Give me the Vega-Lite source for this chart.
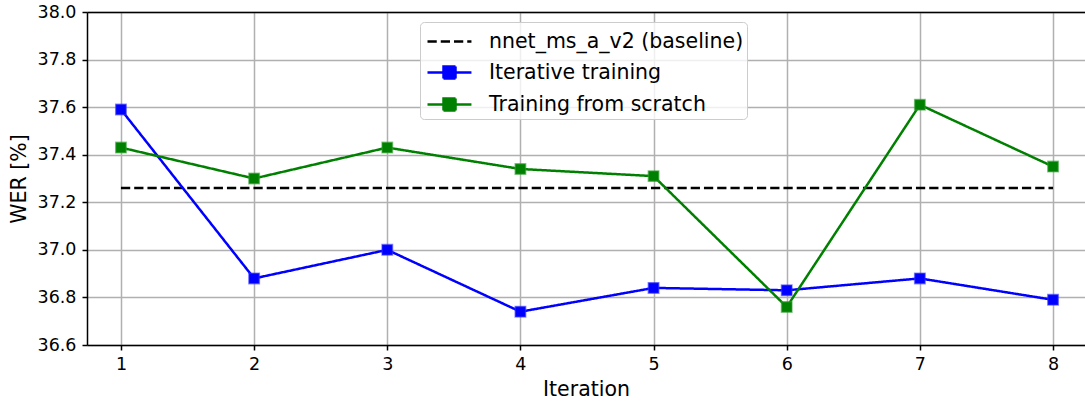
{
  "$schema": "https://vega.github.io/schema/vega-lite/v6.json",
  "width": 998,
  "height": 333,
  "autosize": {"type": "none"},
  "padding": {"left": 87, "top": 12, "right": 0, "bottom": 58},
  "config": {
    "font": "DejaVu Sans",
    "view": {"stroke": null},
    "axis": {
      "domainColor": "black",
      "domainWidth": 1.5,
      "tickColor": "black",
      "tickWidth": 1.5,
      "tickSize": 5,
      "gridColor": "#b0b0b0",
      "gridWidth": 1.5,
      "gridOpacity": 1,
      "labelColor": "black",
      "labelFontSize": 17.5,
      "titleColor": "black",
      "titleFontSize": 20.5,
      "titleFontWeight": "normal"
    }
  },
  "data": {
    "values": [
      {"series": "nnet_ms_a_v2 (baseline)", "iteration": 1, "wer": 37.26},
      {"series": "nnet_ms_a_v2 (baseline)", "iteration": 8, "wer": 37.26},
      {"series": "Iterative training", "iteration": 1, "wer": 37.59},
      {"series": "Iterative training", "iteration": 2, "wer": 36.88},
      {"series": "Iterative training", "iteration": 3, "wer": 37.0},
      {"series": "Iterative training", "iteration": 4, "wer": 36.74},
      {"series": "Iterative training", "iteration": 5, "wer": 36.84},
      {"series": "Iterative training", "iteration": 6, "wer": 36.83},
      {"series": "Iterative training", "iteration": 7, "wer": 36.88},
      {"series": "Iterative training", "iteration": 8, "wer": 36.79},
      {"series": "Training from scratch", "iteration": 1, "wer": 37.43},
      {"series": "Training from scratch", "iteration": 2, "wer": 37.3},
      {"series": "Training from scratch", "iteration": 3, "wer": 37.43},
      {"series": "Training from scratch", "iteration": 4, "wer": 37.34},
      {"series": "Training from scratch", "iteration": 5, "wer": 37.31},
      {"series": "Training from scratch", "iteration": 6, "wer": 36.76},
      {"series": "Training from scratch", "iteration": 7, "wer": 37.61},
      {"series": "Training from scratch", "iteration": 8, "wer": 37.35}
    ]
  },
  "resolve": {"axis": {"x": "independent"}},
  "layer": [
    {
      "mark": {"type": "line", "strokeWidth": 2.5, "clip": true},
      "encoding": {
        "x": {
          "field": "iteration",
          "type": "quantitative",
          "scale": {"domain": [0.745, 8.24], "nice": false, "zero": false},
          "axis": {
            "values": [1, 2, 3, 4, 5, 6, 7, 8],
            "format": "d",
            "title": "Iteration",
            "labelPadding": 5,
            "titlePadding": 7
          }
        },
        "y": {
          "field": "wer",
          "type": "quantitative",
          "scale": {"domain": [36.6, 38.0], "nice": false, "zero": false},
          "axis": {
            "values": [36.6, 36.8, 37.0, 37.2, 37.4, 37.6, 37.8, 38.0],
            "format": ".1f",
            "title": "WER [%]",
            "labelPadding": 6,
            "titlePadding": 8
          }
        },
        "color": {
          "field": "series",
          "type": "nominal",
          "sort": null,
          "scale": {
            "domain": ["nnet_ms_a_v2 (baseline)", "Iterative training", "Training from scratch"],
            "range": ["black", "#0000ff", "#008000"]
          },
          "legend": {
            "title": null,
            "orient": "none",
            "legendX": 333,
            "legendY": 10,
            "padding": 3,
            "fillColor": "rgba(255,255,255,0.8)",
            "strokeColor": "#cccccc",
            "cornerRadius": 4,
            "labelFontSize": 20.5,
            "labelColor": "black",
            "labelLimit": 400,
            "labelOffset": 33,
            "symbolSize": 900,
            "symbolStrokeWidth": 2.5,
            "rowPadding": 4,
            "encode": {
              "symbols": {
                "update": {
                  "shape": {"signal": "datum.value == 'nnet_ms_a_v2 (baseline)' ? 'M-0.8,0H2.13' : 'M-0.8,0H2.13M0.267,-0.4H1.067V0.4H0.267Z'"},
                  "fill": {"signal": "datum.value == 'nnet_ms_a_v2 (baseline)' ? 'transparent' : scale('color', datum.value)"}
                }
              }
            }
          }
        },
        "strokeDash": {
          "field": "series",
          "type": "nominal",
          "sort": null,
          "scale": {
            "domain": ["nnet_ms_a_v2 (baseline)", "Iterative training", "Training from scratch"],
            "range": [[9.25, 4], [1, 0], [1, 0]]
          }
        }
      }
    },
    {
      "transform": [{"filter": "datum.series != 'nnet_ms_a_v2 (baseline)'"}],
      "mark": {"type": "point", "shape": "square", "filled": true, "size": 110, "opacity": 1, "strokeWidth": 1.5, "strokeOpacity": 0.55},
      "encoding": {
        "x": {
          "field": "iteration",
          "type": "quantitative",
          "axis": {"orient": "top", "labels": false, "ticks": false, "grid": false, "title": null, "domain": true}
        },
        "y": {"field": "wer", "type": "quantitative"},
        "color": {"field": "series", "type": "nominal", "sort": null},
        "stroke": {
          "field": "series",
          "type": "nominal",
          "legend": null,
          "scale": {
            "domain": ["nnet_ms_a_v2 (baseline)", "Iterative training", "Training from scratch"],
            "range": ["black", "#3333ff", "#33a033"]
          }
        }
      }
    }
  ]
}
